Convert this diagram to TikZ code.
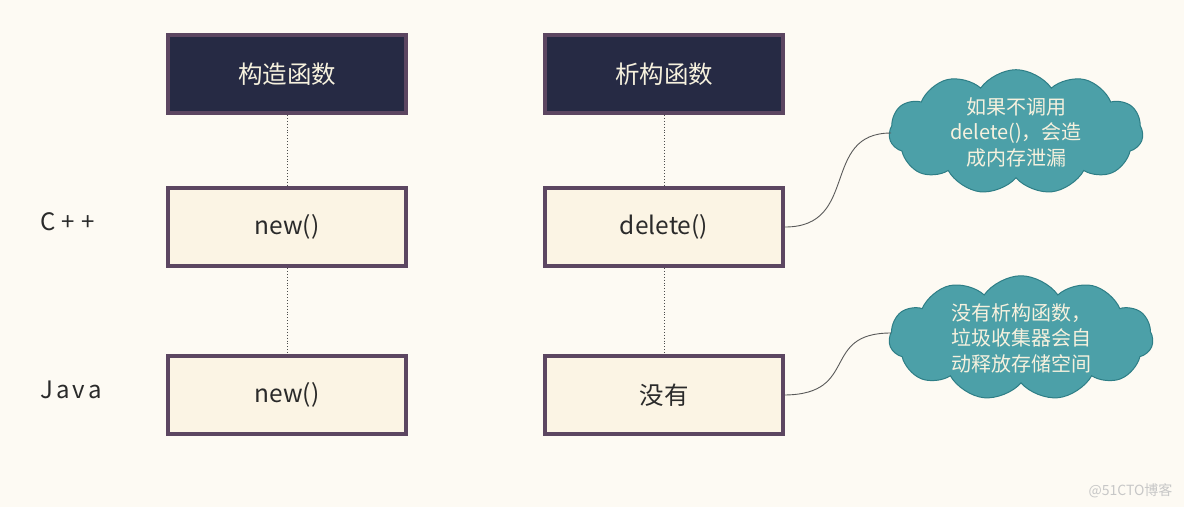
\documentclass[tikz,border=0pt]{standalone}
\usepackage{fontspec}
\setmainfont{Noto Sans CJK SC}
\usetikzlibrary{shapes.symbols}
\definecolor{bg}{HTML}{FDFAF3}
\definecolor{navy}{HTML}{262A44}
\definecolor{frame}{HTML}{5C4661}
\definecolor{cream}{HTML}{FBF4E4}
\definecolor{teal}{HTML}{4CA0A8}
\definecolor{tealdark}{HTML}{2E7E86}
\definecolor{cloudtxt}{HTML}{F6F1DE}
\definecolor{txt}{HTML}{2A2A2A}
\begin{document}
\begin{tikzpicture}[x=1pt,y=-1pt,
  box/.style={draw=frame,line width=4pt,minimum width=238pt,minimum height=78pt,inner sep=0pt,font=\fontsize{24.5}{28}\selectfont},
  headbox/.style={box,fill=navy,text=cloudtxt},
  bodybox/.style={box,fill=cream,text=txt},
  dotline/.style={draw=black!70,line width=0.9pt,dotted},
  conn/.style={draw=black!65,line width=0.9pt},
  note/.style={cloud,cloud puffs=11,cloud puff arc=110,aspect=2.1,draw=tealdark,line width=1pt,fill=teal,text=cloudtxt,align=center,inner sep=0pt,font=\fontsize{20}{25.5}\selectfont},
  lang/.style={anchor=west,text=txt,font=\fontsize{24}{28}\selectfont}
]
\fill[bg] (0,0) rectangle (1184,507);
\useasboundingbox (0,0) rectangle (1184,507);

\node[headbox] (ctor) at (287,74) {构造函数};
\node[headbox] (dtor) at (664,74) {析构函数};
\node[bodybox] (cnew) at (287,227) {new()};
\node[bodybox] (cdel) at (664,227) {delete()};
\node[bodybox] (jnew) at (287,395) {new()};
\node[bodybox] (jnone) at (664,395) {没有};

\node[lang] (cpp) at (37,222) {C\kern6pt+\kern6pt+};
\node[lang] (java) at (37,390) {J\kern3pt a\kern3pt v\kern3pt a};

\draw[dotline] (ctor.south) -- (cnew.north);
\draw[dotline] (cnew.south) -- (jnew.north);
\draw[dotline] (dtor.south) -- (cdel.north);
\draw[dotline] (cdel.south) -- (jnone.north);

\node[note,minimum width=254pt,minimum height=122pt] (n1) at (1016,132) {如果不调用\\delete()，会造\\成内存泄漏};
\node[note,minimum width=264pt,minimum height=116pt] (n2) at (1021,338) {没有析构函数，\\垃圾收集器会自\\动释放存储空间};

\coordinate (n1l) at (891,133);
\coordinate (n2l) at (891,333);
\draw[conn] (cdel.east) .. controls (860,227) and (820,133) .. (n1l);
\draw[conn] (jnone.east) .. controls (860,394) and (820,333) .. (n2l);

\node[anchor=east,text=black!22,font=\fontsize{14}{16}\selectfont] (wm) at (1176,491) {@51CTO博客};
\end{tikzpicture}
\end{document}
